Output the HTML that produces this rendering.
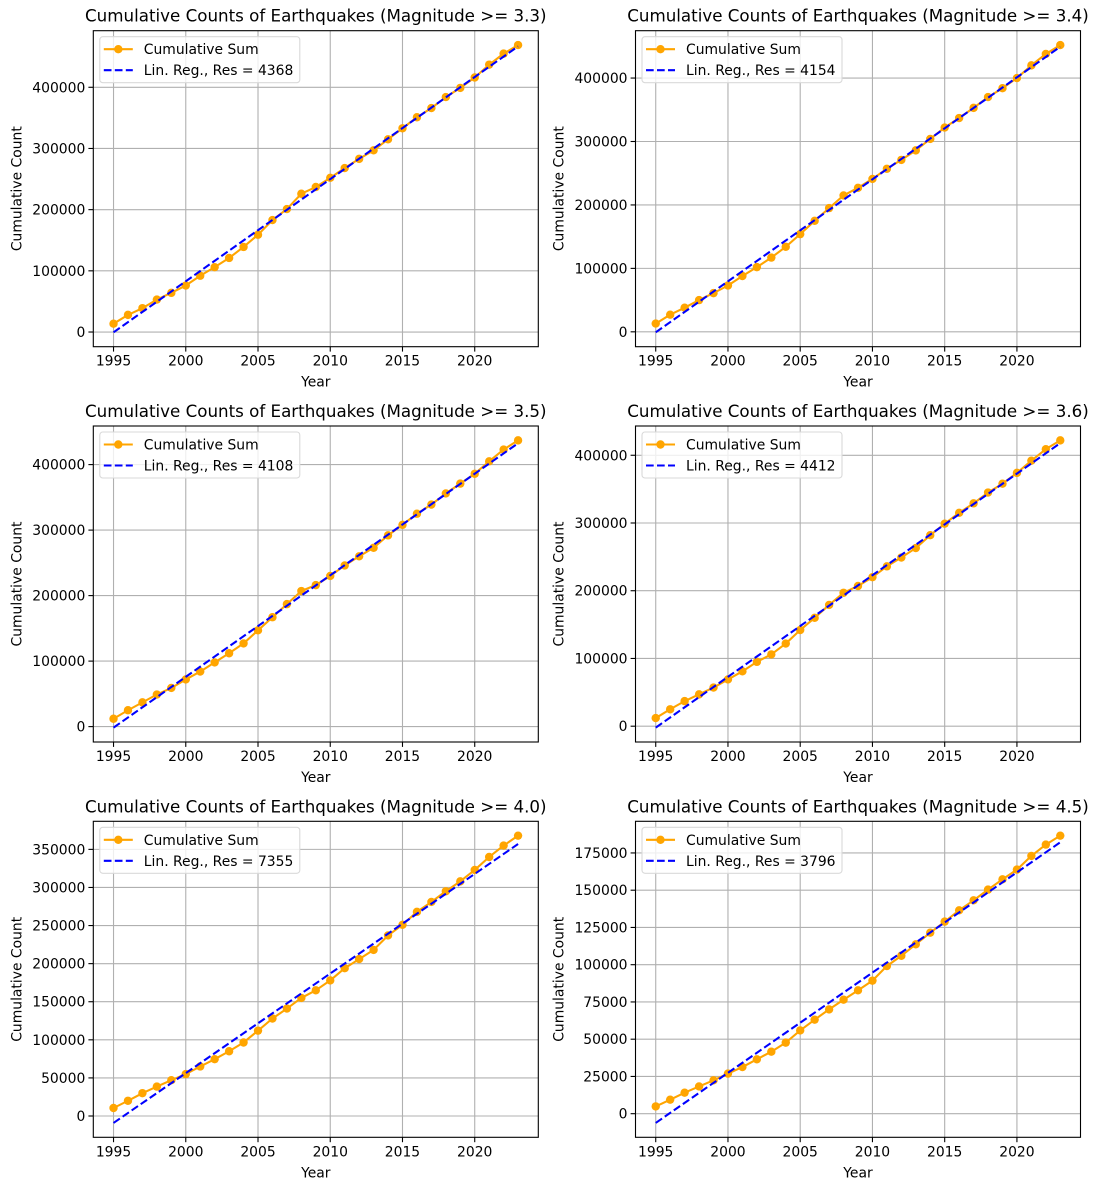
<!DOCTYPE html>
<html><head><meta charset="utf-8">
<style>
html,body{margin:0;padding:0;background:#fff;}
svg{display:block;font-family:"DejaVu Sans","Liberation Sans",sans-serif;}
</style></head>
<body>
<svg id="fig" width="1097" height="1190" viewBox="0 0 1097 1190" xmlns="http://www.w3.org/2000/svg"></svg>
<script>
const years = [1995,1996,1997,1998,1999,2000,2001,2002,2003,2004,2005,2006,2007,2008,2009,2010,2011,2012,2013,2014,2015,2016,2017,2018,2019,2020,2021,2022,2023];
const xTicks = [1995,2000,2005,2010,2015,2020];
const magnitudes = ["3.3","3.4","3.5","3.6","4.0","4.5"];
const residuals = [4368,4154,4108,4412,7355,3796];
const cum33 = [13600,28000,39000,53000,64000,76000,92000,106000,121000,139000,159000,183000,201000,226000,237000,252000,268000,283000,297000,315000,333000,351000,366000,384000,399000,416000,437000,455000,469000];
const cum34 = [13000,27000,38000,50000,61000,73000,88000,102000,117000,134000,154000,175000,195000,215000,227000,241000,257000,271000,286000,304000,322000,337000,353000,370000,384000,400000,420000,438000,452000];
const cum35 = [12000,25000,37000,49000,59000,72000,84000,98000,112000,127000,147000,167000,187000,207000,216000,230000,246000,260000,273000,292000,308000,325000,339000,356000,371000,386000,405000,423000,437000];
const cum36 = [12000,25000,37000,47000,57000,69000,81000,95000,106000,122000,142000,160000,179000,197000,207000,220000,236000,249000,263000,282000,299000,315000,329000,345000,358000,374000,392000,409000,422000];
const cum40 = [10500,20000,30000,38600,47000,55000,65000,74600,85000,96500,112000,128000,141000,155000,165000,178000,194000,206000,218000,237000,251000,268000,281000,295000,308000,323000,340000,355000,368000];
const cum45 = [4900,9400,14100,18300,22400,26900,31300,36500,41600,47700,55900,63100,70000,76500,82800,89300,99100,106000,113700,121500,128900,136500,143200,150400,157300,163800,173000,180600,186600];
const yTicksA = [0,100000,200000,300000,400000];
const yTicks40 = [0,50000,100000,150000,200000,250000,300000,350000];
const yTicks45 = [0,25000,50000,75000,100000,125000,150000,175000];

const series = [cum33,cum34,cum35,cum36,cum40,cum45];
const yTickSets = [yTicksA,yTicksA,yTicksA,yTicksA,yTicks40,yTicks45];

const NS = "http://www.w3.org/2000/svg";
const fig = document.getElementById('fig');
function mk(tag, attrs, parent){
  const e = document.createElementNS(NS, tag);
  for (const k in attrs) e.setAttribute(k, attrs[k]);
  (parent||fig).appendChild(e);
  return e;
}
const colL = [93.3, 635.5], W = 445;
const rowT = [30.7, 426, 821.3], H = 316;

for (let i = 0; i < 6; i++) {
  const L = colL[i % 2], T = rowT[Math.floor(i / 2)], B = T + H, R = L + W;
  const data = series[i];
  const g = mk('g', {});
  
  
  // regression
  const n = years.length;
  let sx=0, sy=0, sxx=0, sxy=0;
  for (let k=0;k<n;k++){ sx+=years[k]; sy+=data[k]; sxx+=years[k]*years[k]; sxy+=years[k]*data[k]; }
  const slope = (n*sxy - sx*sy)/(n*sxx - sx*sx);
  const icpt = (sy - slope*sx)/n;
  const reg = years.map(y => slope*y + icpt);
  let mn = Math.min(...data, ...reg), mx = Math.max(...data, ...reg);
  const pad = (mx - mn) * 0.05; const y0 = mn - pad, y1 = mx + pad;
  const xr0 = years[0] - (years[n-1]-years[0])*0.05, xr1 = years[n-1] + (years[n-1]-years[0])*0.05;
  const xs = v => L + (v - xr0) / (xr1 - xr0) * W;
  const ys = v => B - (v - y0) / (y1 - y0) * H;

  // grid + ticks
  xTicks.forEach(t => {
    const x = xs(t);
    const gl = mk('line', {x1:x, x2:x, y1:T, y2:B, stroke:'#b0b0b0', 'stroke-width':1.1}, g);
    
    
    mk('line', {x1:x, x2:x, y1:B, y2:B+4.9, stroke:'#000', 'stroke-width':1.1}, g);
    const tx = mk('text', {x:x, y:B+19, 'font-size':13.9, 'text-anchor':'middle', fill:'#000'}, g);
    tx.textContent = t;
    
    
  });
  yTickSets[i].forEach(t => {
    const y = ys(t);
    const gl = mk('line', {x1:L, x2:R, y1:y, y2:y, stroke:'#b0b0b0', 'stroke-width':1.1}, g);
    
    
    mk('line', {x1:L-4.9, x2:L, y1:y, y2:y, stroke:'#000', 'stroke-width':1.1}, g);
    const tx = mk('text', {x:L-8, y:y+5, 'font-size':13.9, 'text-anchor':'end', fill:'#000'}, g);
    tx.textContent = t;
    
    
  });

  // data line
  const clip = mk('clipPath', {id:'c'+i}, g);
  mk('rect', {x:L, y:T, width:W, height:H}, clip);
  const dg = mk('g', {'clip-path':'url(#c'+i+')'}, g);
  const pts = years.map((y,k)=> xs(y).toFixed(2)+','+ys(data[k]).toFixed(2)).join(' ');
  const pl = mk('polyline', {points:pts, fill:'none', stroke:'#ffa500', 'stroke-width':2.08, 'stroke-linejoin':'round'}, dg);
  
  
  years.forEach((y,k) => {
    const c = mk('circle', {cx:xs(y), cy:ys(data[k]), r:4.2, fill:'#ffa500'}, dg);
    
    
  });
  const rl = mk('line', {x1:xs(years[0]), y1:ys(reg[0]), x2:xs(years[n-1]), y2:ys(reg[n-1]), stroke:'#0000ff', 'stroke-width':2.08, 'stroke-dasharray':'7.7,3.3'}, dg);
  
  

  // frame
  mk('rect', {x:L, y:T, width:W, height:H, fill:'none', stroke:'#000', 'stroke-width':1.1}, g);

  // title & labels
  const ti = mk('text', {x:L+W/2, y:T-9, 'font-size':16.7, 'text-anchor':'middle', fill:'#000'}, g);
  ti.textContent = 'Cumulative Counts of Earthquakes (Magnitude >= ' + magnitudes[i] + ')';
  
  
  const xl = mk('text', {x:L+W/2, y:B+40, 'font-size':13.9, 'text-anchor':'middle', fill:'#000'}, g);
  xl.textContent = 'Year';
  
  
  const ylx = L - 72;
  const yl = mk('text', {x:ylx, y:T+H/2, 'font-size':13.9, 'text-anchor':'middle', fill:'#000', transform:'rotate(-90 '+ylx+' '+(T+H/2)+')'}, g);
  yl.textContent = 'Cumulative Count';
  
  

  // legend
  const lg = mk('g', {}, g);
  
  
  mk('rect', {x:L+6.5, y:T+6, width:200, height:46, rx:3, fill:'#fff', 'fill-opacity':0.8, stroke:'#d9d9d9', 'stroke-width':1.1}, lg);
  mk('line', {x1:L+10.5, x2:L+39.5, y1:T+18.5, y2:T+18.5, stroke:'#ffa500', 'stroke-width':2.08}, lg);
  mk('circle', {cx:L+25, cy:T+18.5, r:4.2, fill:'#ffa500'}, lg);
  const t1 = mk('text', {x:L+50.5, y:T+23.5, 'font-size':13.9, fill:'#000'}, lg);
  t1.textContent = 'Cumulative Sum';
  
  
  mk('line', {x1:L+10.5, x2:L+39.5, y1:T+39.5, y2:T+39.5, stroke:'#0000ff', 'stroke-width':2.08, 'stroke-dasharray':'7.7,3.3'}, lg);
  const t2 = mk('text', {x:L+50.5, y:T+44.5, 'font-size':13.9, fill:'#000'}, lg);
  t2.textContent = 'Lin. Reg., Res = ' + residuals[i];
  
  
}
</script>
</body></html>
